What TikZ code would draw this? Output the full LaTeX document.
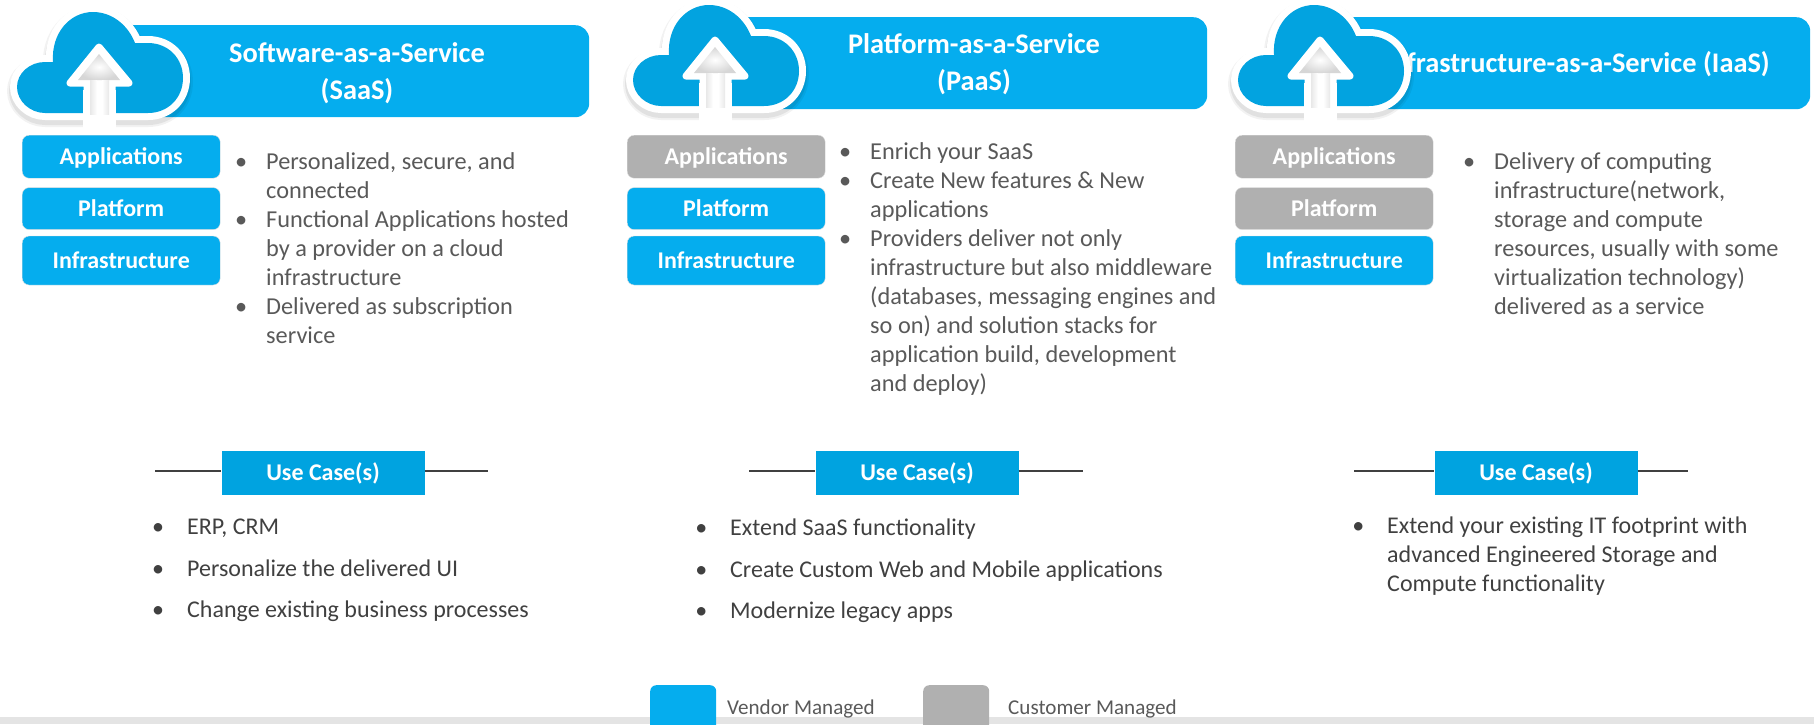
\documentclass[tikz,border=0pt]{standalone}
\usepackage{fontspec}
\setmainfont{Carlito}
\usetikzlibrary{positioning}
\definecolor{vendorblue}{HTML}{05ADEE}
\definecolor{cloudblue}{HTML}{02A3E0}
\definecolor{usecaseblue}{HTML}{00A3E0}
\definecolor{customergray}{HTML}{B0B0B0}
\definecolor{bodygray}{HTML}{595959}
\definecolor{listgray}{HTML}{404040}
\definecolor{footergray}{HTML}{E4E4E4}
\newcommand{\bul}{\llap{\textbullet\hspace{19pt}}}
\newcommand{\bulc}{\llap{\textbullet\hspace{23pt}}}
\tikzset{
  banner/.style={fill=vendorblue, rounded corners=14pt, inner sep=0pt, minimum height=92pt},
  bannertext/.style={text=white, font=\fontsize{28.4}{37}\selectfont\bfseries, align=center, inner sep=0pt},
  layerbox/.style={fill=vendorblue, draw=black!12, rounded corners=7pt, text=white, minimum width=198pt, inner sep=0pt, text height=18pt, text depth=3pt, font=\fontsize{24}{28}\selectfont\bfseries},
  customerbox/.style={layerbox, fill=customergray},
  usecase/.style={fill=usecaseblue, text=white, minimum width=203pt, minimum height=44pt, inner sep=0pt, font=\fontsize{24}{28}\selectfont\bfseries},
  caseline/.style={draw=listgray, line width=1.6pt},
  toplist/.style={anchor=north west, align=left, inner sep=0pt, text=bodygray, font=\fontsize{24.3}{29}\selectfont, execute at begin node=\strut},
  caselist/.style={toplist, text=listgray, font=\fontsize{24}{41.5}\selectfont},
  caselistb/.style={toplist, text=listgray, font=\fontsize{24}{29}\selectfont},
  legendbox/.style={fill=#1, rounded corners=6pt, minimum width=66pt, minimum height=46pt, inner sep=0pt},
  legendtext/.style={text=bodygray, inner sep=0pt, anchor=west, font=\fontsize{21.1}{24}\selectfont},
  cloudicon/.pic={
    \def\cloudpath{(45,113) .. controls (30,113) and (17,101) .. (17,87) .. controls (17,73) and (30,62) .. (45,62) -- (53,62) .. controls (51,33) and (70,12) .. (93,12) .. controls (112,12) and (128,25) .. (135,43) -- (148,43) .. controls (168,43) and (183,58) .. (183,78) .. controls (183,98) and (168,113) .. (148,113) -- cycle}
    % soft shadow
    \draw[black, opacity=0.05, line width=20pt, line join=round, yshift=-4pt] \cloudpath;
    \draw[black, opacity=0.07, line width=16pt, line join=round, yshift=-4pt] \cloudpath;
    % white rim and cloud
    \draw[white, fill=cloudblue, line width=14pt, line join=round] \cloudpath;
    \fill[cloudblue] \cloudpath;
    % arrow
    \fill[white] (83,90) rectangle (116,128);
    \draw[white, fill=white, line width=7pt, line join=round] (99,47) -- (129,83) -- (112,83) -- (112,118) -- (87,118) -- (87,83) -- (70,83) -- cycle;
    \shade[inner color=white, outer color=black!16] (99,54) -- (120,80) -- (78,80) -- cycle;
    \shade[left color=black!9, right color=white] (90,80) rectangle (97,114);
    \shade[left color=white, right color=black!9] (102,80) rectangle (109,114);
  }
}
\begin{document}
\begin{tikzpicture}[x=1pt, y=-1pt]
        \useasboundingbox (0,0) rectangle (1814,724);

        % Footer
        \fill[footergray] (0,717) rectangle (1814,724);

        % SaaS column
        \node (saas) [banner, anchor=north west, minimum width=474pt] at (115,25) {};
        \node (saasT) [bannertext] at (357,73) {Software-as-a-Service\\(SaaS)};
        \pic at (0,0) {cloudicon};
        \node (saasA) [layerbox, minimum height=43pt, anchor=north west] at (22,135) {Applications};
        \node (saasP) [layerbox, minimum height=42pt, below=9pt of saasA] {Platform};
        \node (saasI) [layerbox, minimum height=49pt, below=6pt of saasP] {Infrastructure};
        \node (saasL) [toplist] at (266,152.5) {\bul Personalized, secure, and\\connected\\\bul Functional Applications hosted\\by a provider on a cloud\\infrastructure\\\bul Delivered as subscription\\service};
        \node (saasU) [usecase] at (323,473) {Use Case(s)};
        \coordinate (saasUl) at (155,471);
        \coordinate (saasUr) at (488,471);
        \draw [caseline] (saasUl) -- (saasU.west |- saasUl);
        \draw [caseline] (saasU.east |- saasUr) -- (saasUr);
        \node (saasC) [caselist] at (187,519) {\bulc ERP, CRM\\\bulc Personalize the delivered UI\\\bulc Change existing business processes};

        % PaaS column
        \node (paas) [banner, anchor=north west, minimum width=480pt] at (727,17) {};
        \node (paasT) [bannertext] at (974,64) {Platform-as-a-Service\\(PaaS)};
        \pic at (616,-7) {cloudicon};
        \node (paasA) [customerbox, minimum height=43pt, anchor=north west] at (627,135) {Applications};
        \node (paasP) [layerbox, minimum height=42pt, below=9pt of paasA] {Platform};
        \node (paasI) [layerbox, minimum height=49pt, below=6pt of paasP] {Infrastructure};
        \node (paasL) [toplist] at (870,142) {\bul Enrich your SaaS\\\bul Create New features \& New\\applications\\\bul Providers deliver not only\\infrastructure but also middleware\\(databases, messaging engines and\\so on) and solution stacks for\\application build, development\\and deploy)};
        \node (paasU) [usecase] at (917,473) {Use Case(s)};
        \coordinate (paasUl) at (749,471);
        \coordinate (paasUr) at (1083,471);
        \draw [caseline] (paasUl) -- (paasU.west |- paasUl);
        \draw [caseline] (paasU.east |- paasUr) -- (paasUr);
        \node (paasC) [caselist] at (730,519) {\bulc Extend SaaS functionality\\\bulc Create Custom Web and Mobile applications\\\bulc Modernize legacy apps};

        % IaaS column
        \node (iaas) [banner, anchor=north west, minimum width=470pt] at (1340,17) {};
        \node (iaasT) [bannertext, anchor=base east] at (1770,72) {Infrastructure-as-a-Service (IaaS)};
        \pic at (1221,-7) {cloudicon};
        \node (iaasA) [customerbox, minimum height=43pt, anchor=north west] at (1235,135) {Applications};
        \node (iaasP) [customerbox, minimum height=42pt, below=9pt of iaasA] {Platform};
        \node (iaasI) [layerbox, minimum height=49pt, below=6pt of iaasP] {Infrastructure};
        \node (iaasL) [toplist] at (1494,152.5) {\bul Delivery of computing\\infrastructure(network,\\storage and compute\\resources, usually with some\\virtualization technology)\\delivered as a service};
        \node (iaasU) [usecase] at (1536,473) {Use Case(s)};
        \coordinate (iaasUl) at (1354,471);
        \coordinate (iaasUr) at (1688,471);
        \draw [caseline] (iaasUl) -- (iaasU.west |- iaasUl);
        \draw [caseline] (iaasU.east |- iaasUr) -- (iaasUr);
        \node (iaasC) [caselistb] at (1387,517) {\bulc Extend your existing IT footprint with\\advanced Engineered Storage and\\Compute functionality};

        % Legend
        \node (vendor) [legendbox=vendorblue, anchor=north west] at (650,685) {};
        \node (vendorT) [legendtext] at (727,709) {Vendor Managed};
        \node (customer) [legendbox=customergray, anchor=north west] at (923,685) {};
        \node (customerT) [legendtext] at (1008,709) {Customer Managed};
    \end{tikzpicture}
\end{document}
